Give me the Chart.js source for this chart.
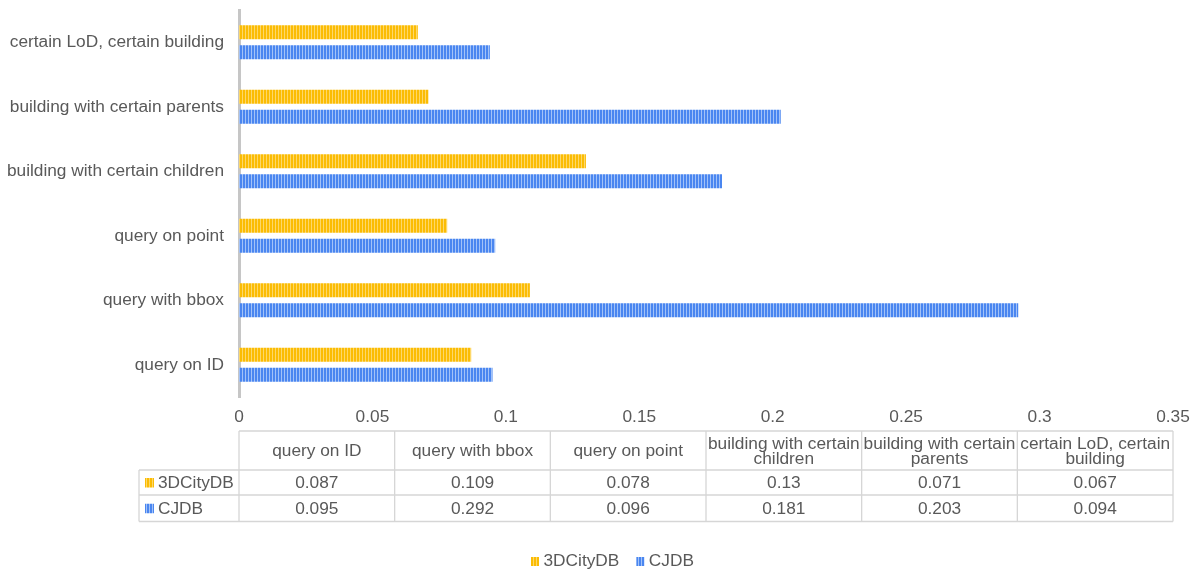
<!DOCTYPE html>
<html>
<head>
<meta charset="utf-8">
<title>Query times</title>
<script src="https://cdn.jsdelivr.net/npm/chart.js@4.4.1/dist/chart.umd.min.js"></script>
<style>
    html, body { margin: 0; padding: 0; background: #fff; }
    canvas { display: block; }
</style>
</head>
<body>
<canvas id="queryChart" width="1196" height="574"></canvas>
<script>
// data
const categories = ['query on ID', 'query with bbox', 'query on point',
    'building with certain children', 'building with certain parents', 'certain LoD, certain building'];
const seriesNames = ['3DCityDB', 'CJDB'];
const cityDbValues = [0.087, 0.109, 0.078, 0.13, 0.071, 0.067];
const cjdbValues = [0.095, 0.292, 0.096, 0.181, 0.203, 0.094];
const xTickLabels = ['0', '0.05', '0.1', '0.15', '0.2', '0.25', '0.3', '0.35'];

const FONT = '"Liberation Sans", Arial, sans-serif';
const TEXT_COLOR = '#595959';
const FONT_SIZE = 17.3;

Chart.defaults.font.family = FONT;
Chart.defaults.color = TEXT_COLOR;

// striped fill like the original bars
function stripes(base, light) {
    const c = document.createElement('canvas');
    c.width = 3;
    c.height = 4;
    const g = c.getContext('2d');
    g.fillStyle = base;
    g.fillRect(0, 0, 3, 4);
    g.fillStyle = light;
    g.fillRect(2, 0, 1, 4);
    return g.createPattern(c, 'repeat');
}

const yellow = '#fbbc04';
const blue = '#4a86f0';
const yellowFill = stripes(yellow, '#fdd86a');
const blueFill = stripes(blue, '#a2c2f8');
const keyFills = [yellowFill, blueFill];

// the data table and the legend under the chart
const tablePlugin = {
    id: 'dataTable',
    afterDraw(chart) {
        const ctx = chart.ctx;
        const area = chart.chartArea;
        const left = area.left, right = area.right;
        const colW = (right - left) / categories.length;
        const top = area.bottom + 34;
        const r1 = top + 39, r2 = r1 + 25, bottom = r2 + 26.5;
        const labelLeft = 139;

        ctx.save();
        ctx.strokeStyle = '#d6d6d6';
        ctx.lineWidth = 1.3;
        ctx.beginPath();
        ctx.moveTo(left, top); ctx.lineTo(right, top);
        ctx.moveTo(labelLeft, r1); ctx.lineTo(right, r1);
        ctx.moveTo(labelLeft, r2); ctx.lineTo(right, r2);
        ctx.moveTo(labelLeft, bottom); ctx.lineTo(right, bottom);
        ctx.moveTo(labelLeft, r1); ctx.lineTo(labelLeft, bottom);
        for (let i = 0; i <= categories.length; i++) {
            const x = left + i * colW;
            ctx.moveTo(x, top); ctx.lineTo(x, bottom);
        }
        ctx.stroke();

        ctx.font = FONT_SIZE + 'px ' + FONT;
        ctx.fillStyle = TEXT_COLOR;
        ctx.textAlign = 'center';
        ctx.textBaseline = 'middle';

        categories.forEach((cat, i) => {
            const cx = left + (i + 0.5) * colW;
            // wrap header text to the column
            const words = cat.split(' ');
            const lines = [];
            let line = '';
            words.forEach(w => {
                const test = line ? line + ' ' + w : w;
                if (ctx.measureText(test).width > colW - 1 && line) {
                    lines.push(line);
                    line = w;
                } else {
                    line = test;
                }
            });
            lines.push(line);
            const mid = (top + r1) / 2 + 1;
            const lh = 15.5;
            lines.forEach((l, k) => {
                ctx.fillText(l, cx, mid + (k - (lines.length - 1) / 2) * lh);
            });
            ctx.fillText(String(cityDbValues[i]), cx, (r1 + r2) / 2 + 0.5);
            ctx.fillText(String(cjdbValues[i]), cx, (r2 + bottom) / 2 + 0.5);
        });

        // row labels with keys
        ctx.textAlign = 'left';
        [[r1, r2], [r2, bottom]].forEach((rows, k) => {
            const cy = (rows[0] + rows[1]) / 2;
            ctx.fillStyle = keyFills[k];
            ctx.fillRect(145, cy - 4.5, 9, 9.5);
            ctx.fillStyle = TEXT_COLOR;
            ctx.fillText(seriesNames[k], 158, cy + 0.5);
        });

        // legend
        let lx = 531;
        const ly = 561.5;
        seriesNames.forEach((name, k) => {
            ctx.fillStyle = keyFills[k];
            ctx.fillRect(lx, ly - 4.5, 8, 9);
            ctx.fillStyle = TEXT_COLOR;
            ctx.fillText(name, lx + 12.5, ly);
            lx += 12.5 + ctx.measureText(name).width + 17;
        });
        ctx.restore();
    }
};

const ctx = document.getElementById('queryChart').getContext('2d');
const queryChart = new Chart(ctx, {
    type: 'bar',
    data: {
        labels: categories,
        datasets: [{
            label: seriesNames[0],
            data: cityDbValues,
            backgroundColor: yellowFill,
            categoryPercentage: 0.62,
            barPercentage: 0.7
        }, {
            label: seriesNames[1],
            data: cjdbValues,
            backgroundColor: blueFill,
            categoryPercentage: 0.62,
            barPercentage: 0.7
        }]
    },
    options: {
        indexAxis: 'y',
        responsive: false,
        animation: false,
        layout: {
            padding: { top: 10, right: 23, left: 5, bottom: 147 }
        },
        plugins: {
            legend: { display: false },
            tooltip: { enabled: false }
        },
        scales: {
            x: {
                min: 0,
                max: 0.35,
                grid: { display: false, drawTicks: false },
                border: { display: false },
                ticks: {
                    stepSize: 0.05,
                    padding: 10,
                    maxRotation: 0,
                    font: { size: FONT_SIZE },
                    color: TEXT_COLOR,
                    callback: (value, index) => xTickLabels[index]
                },
                afterFit: (scale) => {
                    scale.height = 30;
                    scale.paddingLeft = 0;
                    scale.paddingRight = 0;
                }
            },
            y: {
                reverse: true,
                grid: { display: false, drawTicks: false },
                border: { display: true, color: '#c6c6c6', width: 3 },
                ticks: {
                    padding: 15,
                    font: { size: FONT_SIZE },
                    color: TEXT_COLOR
                },
                afterFit: (scale) => {
                    scale.width = 234;
                    scale.paddingTop = 0;
                    scale.paddingBottom = 0;
                }
            }
        }
    },
    plugins: [tablePlugin]
});
</script>
</body>
</html>
